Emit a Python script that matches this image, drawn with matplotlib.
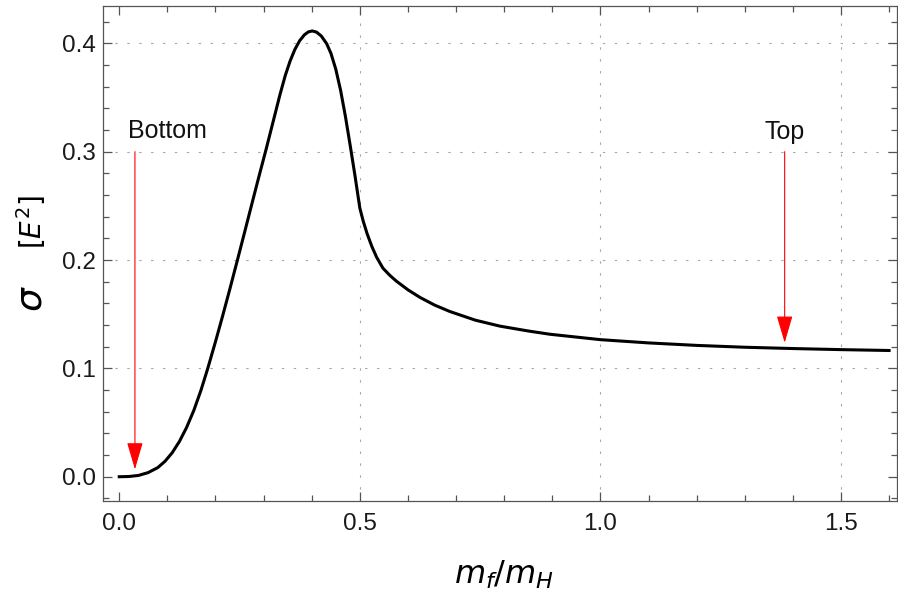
import matplotlib
matplotlib.use("Agg")
import matplotlib.pyplot as plt
import numpy as np

# values
ratio = [0.000, 0.020, 0.040, 0.060, 0.080, 0.095, 0.110, 0.125, 0.140, 0.155,
         0.170, 0.184, 0.200, 0.215, 0.230, 0.245, 0.260, 0.275, 0.290, 0.305,
         0.320, 0.334, 0.345, 0.355, 0.365, 0.375, 0.385, 0.393, 0.401, 0.410,
         0.420, 0.431, 0.440, 0.450, 0.460, 0.470, 0.480, 0.490, 0.500, 0.507,
         0.515, 0.525, 0.535, 0.548, 0.562, 0.576, 0.600, 0.625, 0.655, 0.687,
         0.740, 0.791, 0.850, 0.895, 1.000, 1.100, 1.200, 1.300, 1.400, 1.500,
         1.600]
sigma = [0.0000, 0.0002, 0.0012, 0.0038, 0.0084, 0.0142, 0.0221, 0.0325, 0.0455, 0.0612,
         0.0800, 0.1000, 0.1246, 0.1486, 0.1734, 0.1989, 0.2247, 0.2507, 0.2765, 0.3018,
         0.3280, 0.3525, 0.3702, 0.3835, 0.3943, 0.4024, 0.4079, 0.4105, 0.4114, 0.4103,
         0.4067, 0.3997, 0.3907, 0.3762, 0.3567, 0.3327, 0.3057, 0.2777, 0.2480, 0.2360,
         0.2245, 0.2125, 0.2025, 0.1925, 0.1860, 0.1805, 0.1725, 0.1655, 0.1585, 0.1525,
         0.1445, 0.1390, 0.1345, 0.1315, 0.1265, 0.1235, 0.1212, 0.1195, 0.1183, 0.1173,
         0.1165]

xticks = [0.0, 0.5, 1.0, 1.5]
xticklabels = ["0.0", "0.5", "1.0", "1.5"]
yticks = [0.0, 0.1, 0.2, 0.3, 0.4]
yticklabels = ["0.0", "0.1", "0.2", "0.3", "0.4"]
grid_x = [0.5, 1.0, 1.5]
grid_y = [0.1, 0.2, 0.3, 0.4]

# annotations: label, arrow x, arrow start y, arrow tip y
marks = ["Bottom", "Top"]
mark_x = [0.0326, 1.383]
mark_start = [0.300, 0.300]
mark_tip = [0.0068, 0.1237]

plt.rcParams["font.family"] = ["Liberation Sans", "DejaVu Sans"]

fig = plt.figure(figsize=(8.98, 5.99), dpi=100)
ax = fig.add_axes([0.115, 0.1636, 0.8839, 0.8269])

frame_col = "#555555"
for x in grid_x:
    ax.axvline(x, color="#a8a8a8", lw=0.8, linestyle=(0, (2.2, 8.5)), zorder=0)
for y in grid_y:
    ax.axhline(y, color="#a8a8a8", lw=0.8, linestyle=(0, (2.2, 8.5)), zorder=0)

ax.plot(ratio, sigma, color="black", lw=2.2, solid_joinstyle="round", zorder=3)

for i, name in enumerate(marks):
    ax.annotate("", xy=(mark_x[i], mark_tip[i]), xytext=(mark_x[i], mark_start[i]),
                arrowprops=dict(arrowstyle="-|>,head_length=1.7,head_width=0.5",
                                mutation_scale=10, color="red", lw=0.8,
                                shrinkA=0, shrinkB=0), zorder=4)

ax.text(0.0187, 0.3126, marks[0], fontsize=18, ha="left", va="baseline", color="#111111")
ax.text(mark_x[1], 0.3115, marks[1], fontsize=18, ha="center", va="baseline", color="#111111")

ax.set_xlim(-0.0332, 1.6165)
ax.set_ylim(-0.0224, 0.4347)
ax.set_xticks(xticks)
ax.set_xticklabels(xticklabels)
ax.set_yticks(yticks)
ax.set_yticklabels(yticklabels)
ax.set_xticks(np.arange(0, 1.65, 0.1), minor=True)
ax.set_yticks(np.arange(-0.02, 0.43, 0.02), minor=True)

ax.tick_params(which="both", direction="in", top=True, right=True,
               color=frame_col, width=0.9, labelsize=17.5, labelcolor="#1a1a1a")
ax.tick_params(which="major", length=6.5)
ax.tick_params(which="minor", length=4)
ax.tick_params(axis="x", pad=8.5)
ax.tick_params(axis="y", pad=5.5)
for s in ax.spines.values():
    s.set_color(frame_col)
    s.set_linewidth(0.9)

# axis labels
fig.text(0.0356, 0.5008, r"$\sigma$", fontsize=27, rotation=90, ha="center", va="center")
fig.text(0.0345, 0.6294, r"$[E^2]$", fontsize=20, rotation=90, ha="center", va="center")
fig.text(0.561, 0.040, r"$m_f/m_H$", fontsize=23, ha="center", va="center")

fig.savefig("out.png", dpi=100)
